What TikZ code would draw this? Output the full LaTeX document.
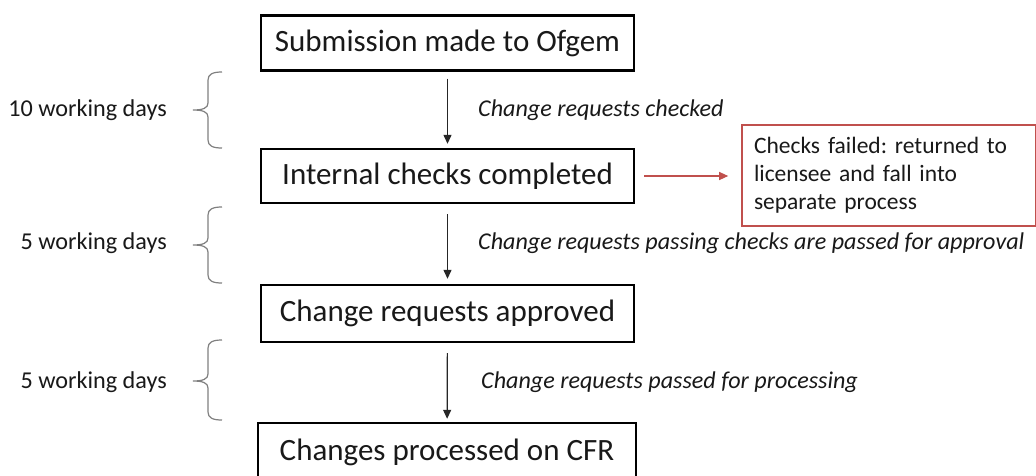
\documentclass[tikz,border=0pt]{standalone}
\usepackage{fontspec}
\setmainfont{Carlito}
\usetikzlibrary{arrows.meta}
\frenchspacing
\begin{document}
\begin{tikzpicture}[x=1pt,y=-1pt,
  stagebox/.style={draw=black, line width=2.4pt, minimum width=373pt, minimum height=55pt,
    inner sep=0pt, font=\fontsize{31}{36}\selectfont, text=black!90},
  flowarrow/.style={draw=black!85, line width=1.2pt, -{Triangle[width=8pt,length=9pt]}},
  redarrow/.style={line width=1.2pt, -{Triangle[width=8pt,length=9pt]}, color={rgb,255:red,192;green,80;blue,77}},
  notelabel/.style={font=\fontsize{24.1}{28}\itshape\selectfont, anchor=west, inner sep=0pt, text=black!90},
  daylabel/.style={font=\fontsize{24.2}{28}\selectfont, anchor=east, inner sep=0pt, text=black!90},
  bracepath/.style={draw=black!50, line width=1.2pt},
  failbox/.style={draw={rgb,255:red,192;green,80;blue,77}, line width=1.6pt, minimum width=294pt,
    minimum height=101pt, text width=270pt, align=left, inner sep=12pt,
    font=\fontsize{23.5}{28}\selectfont, text=black!90}
]
\useasboundingbox (0,0) rectangle (1036,475);
\clip (0,0) rectangle (1036,475);
\fill[white] (0,0) rectangle (1036,475);

% stage boxes
\node[stagebox] (s1) at (447.5,43) {Submission made to Ofgem};
\node[stagebox, minimum height=54pt] (s2) at (447.5,176) {Internal checks completed};
\node[stagebox, minimum height=57pt] (s3) at (447.5,313.5) {Change requests approved};
\node[stagebox, minimum width=378pt, minimum height=58pt] (s4) at (447,452) {Changes processed on CFR};

% failure box
\node[failbox] (f) at (889,175.5) {Checks failed: returned to\\licensee and fall into\\separate process};

% arrows
\draw[flowarrow, shorten <=7pt, shorten >=4pt] (s1) -- (s2);
\draw[flowarrow, shorten <=10pt, shorten >=5pt] (s2) -- (s3);
\draw[flowarrow, shorten <=10pt, shorten >=3pt] (s3) -- (s4);
\draw[redarrow, shorten <=9pt, shorten >=13pt] (s2.east) -- (f.west |- s2.east);

% arrow notes
\node[notelabel] (n1) at (478,110) {Change requests checked};
\node[notelabel] (n2) at (478,243) {Change requests passing checks are passed for approval};
\node[notelabel] (n3) at (481,382) {Change requests passed for processing};

% day labels
\node[daylabel] (d1) at (167,110) {10 working days};
\node[daylabel] (d2) at (167,243) {5 working days};
\node[daylabel] (d3) at (167,382) {5 working days};

% braces
\foreach \t/\m/\b in {72/110/148, 207/245/283, 340/381/420}{
  \draw[bracepath] (222,\t) .. controls (213,\t) and (208,\t+2) .. (208,\t+8)
     -- (208,\m-7) .. controls (208,\m-2) and (203,\m) .. (193,\m)
     .. controls (203,\m) and (208,\m+2) .. (208,\m+7)
     -- (208,\b-8) .. controls (208,\b-2) and (213,\b) .. (222,\b);
}
\end{tikzpicture}
\end{document}
